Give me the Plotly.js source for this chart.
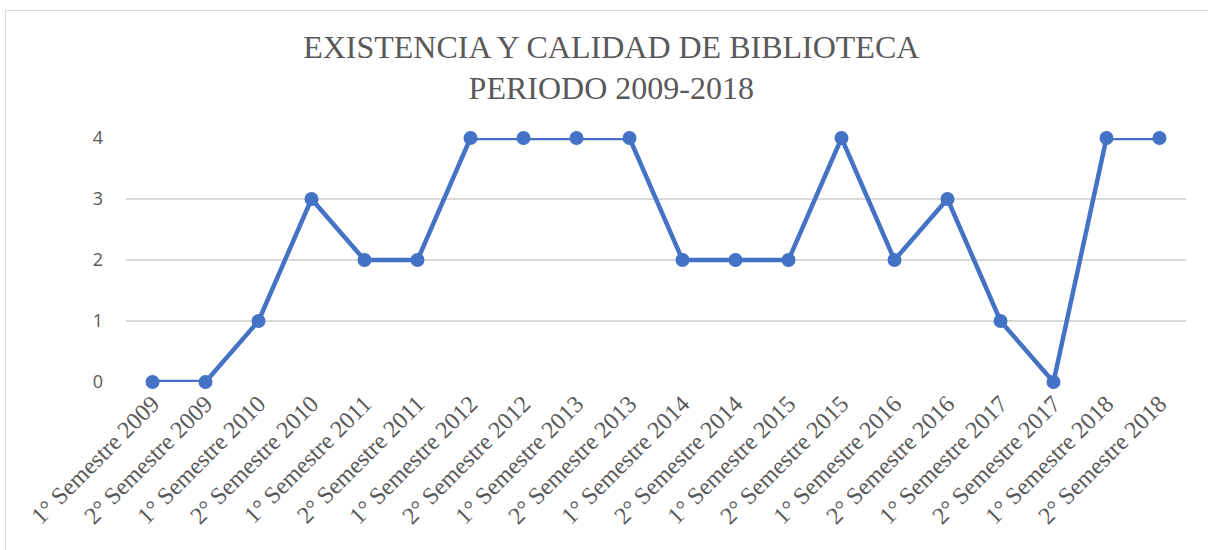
<!DOCTYPE html>
<html>
<head>
<meta charset="utf-8">
<script src="https://cdn.plot.ly/plotly-3.0.1.min.js"></script>
<style>
html,body{margin:0;padding:0;background:#fff;}
#frame{position:absolute;left:5px;top:10px;width:1210px;height:560px;border:1px solid #d9d9d9;box-sizing:border-box;}
#chart{position:absolute;left:0;top:0;width:1208px;height:550px;}
</style>
</head>
<body>
<div id="frame"></div>
<div id="chart"></div>
<script>
const categories = [
  "1° Semestre 2009","2° Semestre 2009","1° Semestre 2010","2° Semestre 2010",
  "1° Semestre 2011","2° Semestre 2011","1° Semestre 2012","2° Semestre 2012",
  "1° Semestre 2013","2° Semestre 2013","1° Semestre 2014","2° Semestre 2014",
  "1° Semestre 2015","2° Semestre 2015","1° Semestre 2016","2° Semestre 2016",
  "1° Semestre 2017","2° Semestre 2017","1° Semestre 2018","2° Semestre 2018"
];
const values = [0,0,1,3,2,2,4,4,4,4,2,2,2,4,2,3,1,0,4,4];
const yTicks = [0,1,2,3,4];

const SERIF = "'Liberation Serif', 'Times New Roman', serif";

const trace = {
  type: "scatter",
  mode: "lines+markers",
  x: categories,
  y: values,
  line: {color: "#4472C4", width: 4.5},
  marker: {color: "#4472C4", size: 14},
  cliponaxis: false,
  hoverinfo: "x+y"
};

const layout = {
  width: 1208, height: 550,
  paper_bgcolor: "rgba(0,0,0,0)",
  plot_bgcolor: "rgba(0,0,0,0)",
  margin: {l: 125.5, r: 21.5, t: 137.5, b: 168},
  showlegend: false,
  title: {
    text: "EXISTENCIA Y CALIDAD DE BIBLIOTECA<br>PERIODO 2009-2018",
    font: {family: SERIF, size: 32, color: "#595959"},
    x: 0.506, xanchor: "center", y: 0.895, yanchor: "top"
  },
  xaxis: {
    type: "category",
    tickangle: -45,
    tickfont: {family: SERIF, size: 24, color: "#595959"},
    showgrid: false, zeroline: false, showline: false, ticks: "",
    ticklabelstandoff: 2,
    automargin: false,
    range: [-0.5, categories.length - 0.5]
  },
  yaxis: {
    range: [0, 4],
    tickvals: yTicks,
    ticktext: yTicks.map(String),
    tickfont: {family: "'Open Sans', 'Liberation Sans', sans-serif", size: 18, color: "#595959"},
    showgrid: true, gridcolor: "#d9d9d9", gridwidth: 1.5,
    zeroline: false, showline: false, ticks: "",
    ticklabelstandoff: 22
  }
};

Plotly.newPlot("chart", [trace], layout, {displayModeBar: false, staticPlot: true});
</script>
</body>
</html>
